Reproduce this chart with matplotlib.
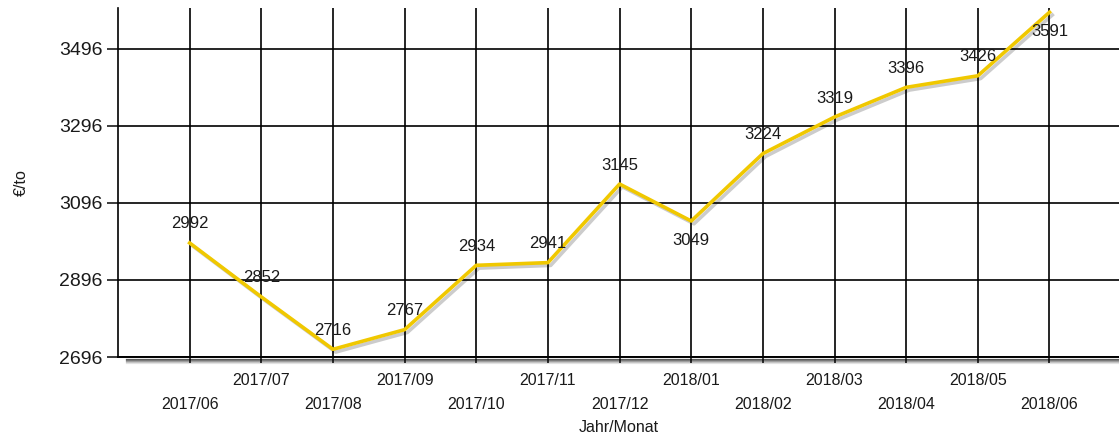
"""Monthly price line chart (€/to), 2017/06 - 2018/06."""

import matplotlib

matplotlib.use("Agg")
import matplotlib.pyplot as plt
import matplotlib.patheffects as pe
from matplotlib.ticker import FixedLocator, FixedFormatter

months = [
    "2017/06", "2017/07", "2017/08", "2017/09", "2017/10", "2017/11", "2017/12",
    "2018/01", "2018/02", "2018/03", "2018/04", "2018/05", "2018/06",
]
prices = [2992, 2852, 2716, 2767, 2934, 2941, 3145, 3049, 3224, 3319, 3396, 3426, 3591]
# labels drawn below the point instead of above
labels_below = ["2018/01", "2018/06"]
y_ticks = [2696, 2896, 3096, 3296, 3496]

plt.rcParams["font.family"] = ["Liberation Sans", "DejaVu Sans"]
TEXT = "#1a1a1a"
LINE = "#F0C800"

fig = plt.figure(figsize=(11.19, 4.37), dpi=100)
ax = fig.add_axes([118 / 1119, 1 - 357 / 437, 1 - 118 / 1119, (357 - 8) / 437])

xs = list(range(1, len(months) + 1))
ax.plot(
    xs, prices, color=LINE, linewidth=2.6, solid_joinstyle="round", zorder=5,
    path_effects=[pe.SimpleLineShadow(offset=(2, -2), shadow_color="#000000", alpha=0.2), pe.Normal()],
)

for x, month, value in zip(xs, months, prices):
    dy = -19 if month in labels_below else 19
    ax.annotate(
        str(value), (x, value), xytext=(0, dy), textcoords="offset pixels",
        ha="center", va="center", fontsize=12, color=TEXT, zorder=6,
    )

ax.set_xlim(0, 13.97)
ax.set_ylim(2696, 3602)

# staggered month labels: odd months on the upper row (major), even on the lower row (minor)
ax.xaxis.set_major_locator(FixedLocator(xs[1::2]))
ax.xaxis.set_major_formatter(FixedFormatter(months[1::2]))
ax.xaxis.set_minor_locator(FixedLocator(xs[0::2]))
ax.xaxis.set_minor_formatter(FixedFormatter(months[0::2]))
ax.tick_params(axis="x", which="major", length=4.5, width=1.2, pad=7, labelsize=11.5, colors=TEXT)
ax.tick_params(axis="x", which="minor", length=4.5, width=1.2, pad=24, labelsize=11.5, colors=TEXT)
ax.set_yticks(y_ticks)
ax.tick_params(axis="y", length=8, width=1.2, pad=3, labelsize=14, colors=TEXT)

ax.grid(True, which="both", axis="x", color="black", linewidth=1.2)
ax.grid(True, which="major", axis="y", color="black", linewidth=1.2)
ax.set_axisbelow(True)

for side in ("top", "right"):
    ax.spines[side].set_visible(False)
ax.spines["left"].set_linewidth(1.2)
ax.spines["bottom"].set_linewidth(1.4)
# soft drop shadow under the x axis, fading downwards
shadow_layers = [(-1.5, 0.62), (-2.25, 0.46), (-3.0, 0.32), (-3.75, 0.19), (-4.5, 0.09)]
ax.spines["bottom"].set_path_effects(
    [
        pe.SimpleLineShadow(offset=(6, dy_), shadow_color="#000000", alpha=a, linewidth=0.9)
        for dy_, a in reversed(shadow_layers)
    ]
    + [pe.Normal()]
)

ax.set_xlabel("Jahr/Monat", fontsize=11.5, color=TEXT, labelpad=6)
ax.set_ylabel("€/to", fontsize=11.5, color=TEXT, labelpad=22)

fig.savefig("out.png", dpi=100)
